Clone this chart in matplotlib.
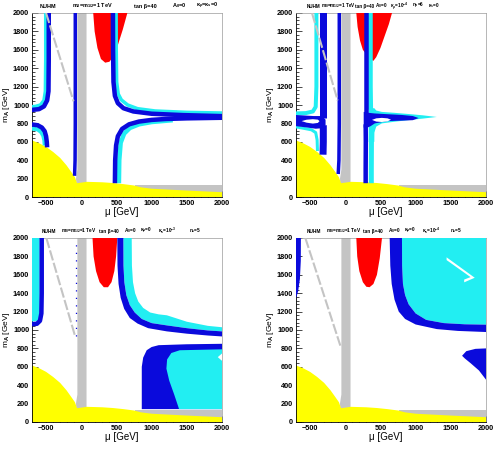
import matplotlib
matplotlib.use("Agg")
import matplotlib.pyplot as plt
from matplotlib.ticker import MultipleLocator

plt.rcParams["font.family"] = ["Liberation Sans", "DejaVu Sans"]
plt.rcParams["font.weight"] = "bold"
plt.rcParams["mathtext.fontset"] = "custom"
plt.rcParams["mathtext.rm"] = "Liberation Sans:bold"
plt.rcParams["mathtext.bf"] = "Liberation Sans:bold"
plt.rcParams["mathtext.it"] = "Liberation Sans:bold"
plt.rcParams["mathtext.default"] = "bf"

GREY = "#c4c4c4"
YELLOW = "#ffff00"
RED = "#ff0000"
BLUE = "#0a0adc"
CYAN = "#22eef2"

XMIN, XMAX, YMIN, YMAX = -700, 2000, 0, 2000

# common regions (mu, m_A in GeV)
YELLOW_X = [-700, -600, -500, -400, -300, -210, -140, -90, -60, 80, 300, 450, 600, 750, 850, 1000, 1500, 2000]
YELLOW_Y = [615, 585, 545, 490, 425, 345, 270, 215, 150, 165, 160, 152, 140, 125, 105, 90, 70, 52]
GREY_BAND_X = [760, 2000, 2000, 760]
GREY_BAND_Y = [0, 0, 130, 130]
GREY_STRIP_X = [-55, -55, -75, -70, 75, 75]
GREY_STRIP_Y = [2000, 300, 200, 140, 140, 2000]

# panel 1: no extra terms
P1_DIAG_X = [-500, -110]
P1_DIAG_Y = [2000, 1040]
P1_RED_X = [170, 190, 230, 280, 340, 400, 450, 500, 540, 590, 655]
P1_RED_Y = [2000, 1800, 1620, 1500, 1460, 1470, 1520, 1600, 1700, 1820, 2000]
P1_UL_CYAN_X = [-505, -505, -510, -530, -580, -650, -720]
P1_UL_CYAN_Y = [2050, 1500, 1150, 1050, 1000, 985, 980]
P1_UL_BLUE_X = [-462, -462, -466, -485, -530, -600, -720]
P1_UL_BLUE_Y = [2050, 1500, 1150, 1050, 985, 955, 945]
P1_LL_BLUE_X = [-720, -620, -560, -520, -500, -490, -485]
P1_LL_BLUE_Y = [790, 780, 755, 715, 660, 600, 540]
P1_LL_CYAN_X = [-720, -620, -570, -540, -525, -520]
P1_LL_CYAN_Y = [745, 735, 705, 665, 615, 560]
P1_UR_BLUE_X = [450, 452, 458, 478, 520, 600, 740, 1000, 1450, 2050]
P1_UR_BLUE_Y = [2050, 1600, 1250, 1100, 1020, 965, 930, 905, 890, 878]
P1_UR_CYAN_X = [495, 497, 503, 525, 570, 660, 800, 1050, 1500, 2050]
P1_UR_CYAN_Y = [2050, 1600, 1250, 1120, 1055, 1000, 960, 935, 920, 912]
P1_LR_BLUE_X = [2050, 1500, 1200, 1000, 820, 680, 580, 520, 495, 482, 478]
P1_LR_BLUE_Y = [862, 855, 848, 838, 820, 790, 740, 660, 560, 400, 150]
P1_LR_CYAN_X = [1300, 1000, 820, 690, 610, 560, 540, 535]
P1_LR_CYAN_Y = [835, 815, 790, 750, 690, 590, 400, 150]
P1_THIN_X = [-85, -85, -88, -95]
P1_THIN_Y = [2050, 800, 400, 230]

# panel 2: kappa_rho = 1e-4, n_rho = 6
P2_DIAG_X = [-473, -108]
P2_DIAG_Y = [2000, 1050]
P2_RED_X = [157, 175, 210, 250, 290, 330, 370, 400, 440, 500, 560, 620, 664]
P2_RED_Y = [2000, 1850, 1700, 1600, 1560, 1520, 1490, 1480, 1520, 1620, 1750, 1880, 2000]
P2_L_CYAN_X = [-410, -410, -420, -460, -560, -720]
P2_L_CYAN_Y = [2050, 1200, 980, 930, 912, 908]
P2_L_CYAN2_X = [-720, -600, -480, -420, -400, -395]
P2_L_CYAN2_Y = [765, 748, 730, 700, 620, 500]
P2_L_BLUE_X = [-312, -312]
P2_L_BLUE_Y = [2050, 860]
P2_L_BLUE2_X = [-312, -312, -316]
P2_L_BLUE2_Y = [780, 600, 460]
P2_L_FISH_X = [-720, -600, -450, -360, -320, -280, -280, -320, -420, -550, -720]
P2_L_FISH_Y = [892, 887, 880, 880, 872, 840, 780, 748, 742, 756, 772]
P2_L_HOLE_X = [-620, -550, -460, -390, -365, -390, -460, -550]
P2_L_HOLE_Y = [825, 840, 846, 841, 825, 805, 798, 808]
P2_R_BLUE_X = [290, 290]
P2_R_BLUE_Y = [2050, 900]
P2_R_BLUE2_X = [290, 292, 290, 290]
P2_R_BLUE2_Y = [790, 600, 300, 150]
P2_R_CYAN_X = [355, 355, 360]
P2_R_CYAN_Y = [2050, 1200, 950]
P2_R_CYAN2_X = [375, 372, 370, 370]
P2_R_CYAN2_Y = [720, 600, 300, 150]
P2_R_ARROW_X = [333, 413, 440, 520, 700, 900, 1100, 1300, 1100, 900, 700, 520, 440, 413, 413, 333]
P2_R_ARROW_Y = [965, 965, 940, 925, 915, 902, 888, 870, 852, 836, 818, 800, 765, 700, 600, 600]
P2_R_FISH_X = [262, 330, 420, 600, 800, 960, 1043, 960, 800, 600, 420, 360, 318, 262]
P2_R_FISH_Y = [925, 915, 908, 900, 892, 880, 858, 835, 830, 825, 800, 770, 755, 755]
P2_R_HOLE_X = [380, 440, 520, 600, 650, 600, 520, 440]
P2_R_HOLE_Y = [838, 855, 860, 855, 840, 822, 815, 820]
P2_THIN_X = [-85, -85, -90, -100]
P2_THIN_Y = [2050, 800, 400, 250]

# panel 3: kappa_s = 1e-3, n_s = 5
P3_DIAG_X = [-496, -91]
P3_DIAG_Y = [2000, 942]
P3_RED_X = [160, 175, 210, 260, 320, 380, 430, 470, 495, 512]
P3_RED_Y = [2000, 1800, 1640, 1520, 1465, 1465, 1520, 1640, 1800, 2000]
P3_L_CYAN_X = [-720, -590, -590, -600, -620, -720]
P3_L_CYAN_Y = [2050, 2050, 1200, 1130, 1100, 1090]
P3_L_BLUE_X = [-562, -562, -567, -587, -630, -720]
P3_L_BLUE_Y = [2050, 1400, 1180, 1100, 1068, 1062]
P3_DOTS_X = [-72, -72]
P3_DOTS_Y = [940, 1950]
P3_BAND_LO_X = [512, 515, 530, 560, 610, 690, 800, 950, 1216, 1500, 1800, 2000]
P3_BAND_LO_Y = [2000, 1700, 1500, 1350, 1230, 1130, 1070, 1020, 985, 960, 940, 930]
P3_BAND_MID_X = [598, 600, 612, 640, 690, 760, 860, 1000, 1216, 1500, 1800, 2000]
P3_BAND_MID_Y = [2000, 1700, 1520, 1380, 1270, 1190, 1120, 1075, 1050, 1020, 995, 985]
P3_BAND_HI_X = [717, 720, 735, 765, 810, 880, 980, 1100, 1216, 1500, 1800, 2000]
P3_BAND_HI_Y = [2000, 1700, 1520, 1400, 1310, 1240, 1190, 1170, 1160, 1090, 1045, 1030]
P3_BLOB_BLUE_X = [860, 860, 880, 930, 1000, 1100, 1500, 2000, 2000]
P3_BLOB_BLUE_Y = [140, 600, 700, 780, 815, 835, 845, 850, 140]
P3_BLOB_CYAN_X = [1390, 1320, 1250, 1210, 1220, 1280, 1400, 2000, 2000]
P3_BLOB_CYAN_Y = [140, 300, 450, 580, 680, 750, 780, 790, 140]
P3_NOTCH_X = [2000, 1940, 2000]
P3_NOTCH_Y = [745, 705, 665]

# panel 4: kappa_s = 1e-4, n_s = 5
P4_DIAG_X = [-567, -70]
P4_DIAG_Y = [2000, 830]
P4_RED_X = [157, 170, 200, 250, 300, 345, 400, 450, 490, 522]
P4_RED_Y = [2000, 1800, 1640, 1520, 1470, 1465, 1500, 1600, 1780, 2000]
P4_L_BLUE_X = [-720, -630, -632, -645, -670, -700, -720]
P4_L_BLUE_Y = [2050, 2050, 1750, 1550, 1420, 1345, 1340]
P4_BAND_LO_X = [631, 640, 660, 700, 760, 850, 1000, 1300, 1600, 2000]
P4_BAND_LO_Y = [2000, 1700, 1500, 1330, 1200, 1120, 1060, 1010, 990, 978]
P4_BAND_MID_X = [806, 808, 820, 850, 900, 1000, 1150, 1400, 1700, 2000]
P4_BAND_MID_Y = [2000, 1700, 1500, 1380, 1280, 1180, 1110, 1075, 1062, 1058]
P4_CHEVRON_X = [1440, 1840, 1690, 1690, 1780, 1440]
P4_CHEVRON_Y = [1790, 1568, 1518, 1548, 1575, 1760]
P4_BLOB_X = [1660, 1720, 1850, 2000, 2000, 1900, 1780, 1700]
P4_BLOB_Y = [720, 770, 795, 800, 460, 560, 640, 690]

TITLES = [
    ["NUHM", "m$_0$=m$_{1/2}$=1 TeV", "tan β=40", "A$_0$=0", "κ$_ρ$=κ$_s$=0"],
    ["NUHM", "m$_0$=m$_{1/2}$=1 TeV", "tan β=40", "A$_0$=0", "κ$_ρ$=10$^{-4}$", "n$_ρ$=6", "κ$_s$=0"],
    ["NUHM", "m$_0$=m$_{1/2}$=1 TeV", "tan β=40", "A$_0$=0", "κ$_ρ$=0", "κ$_s$=10$^{-3}$", "n$_s$=5"],
    ["NUHM", "m$_0$=m$_{1/2}$=1 TeV", "tan β=40", "A$_0$=0", "κ$_ρ$=0", "κ$_s$=10$^{-4}$", "n$_s$=5"],
]
TITLE_POS = [
    [0.084, 0.32, 0.595, 0.774, 0.92],
    [0.09, 0.225, 0.36, 0.45, 0.545, 0.645, 0.725],
    [0.09, 0.245, 0.405, 0.515, 0.6, 0.71, 0.86],
    [0.095, 0.25, 0.405, 0.515, 0.6, 0.71, 0.845],
]
TITLE_SIZE = [4.0, 3.3, 3.4, 3.4]


def line(ax, xs, ys, color, px, z=5):
    ax.plot(xs, ys, color=color, lw=px * 0.72, solid_capstyle="butt",
            solid_joinstyle="round", zorder=z)


def patch(ax, xs, ys, color, z=4):
    ax.fill(xs, ys, color=color, lw=0, zorder=z)


def between(ax, lo_x, lo_y, hi_x, hi_y, color, z=4):
    patch(ax, list(lo_x) + list(hi_x[::-1]), list(lo_y) + list(hi_y[::-1]), color, z)


def base(ax, diag_x, diag_y, red_x, red_y):
    patch(ax, GREY_BAND_X, GREY_BAND_Y, GREY, 1)
    patch(ax, GREY_STRIP_X, GREY_STRIP_Y, GREY, 1)
    patch(ax, YELLOW_X + [XMAX, XMIN], YELLOW_Y + [YMIN, YMIN], YELLOW, 2)
    patch(ax, red_x, red_y, RED, 3)
    ax.plot(diag_x, diag_y, color=GREY, lw=1.5, ls=(0, (5, 1.2)), zorder=7)


def style(ax, i):
    ax.set_xlim(XMIN, XMAX)
    ax.set_ylim(YMIN, YMAX)
    ax.xaxis.set_major_locator(MultipleLocator(500))
    ax.xaxis.set_minor_locator(MultipleLocator(100))
    ax.yaxis.set_major_locator(MultipleLocator(200))
    ax.yaxis.set_minor_locator(MultipleLocator(40))
    ax.tick_params(which="both", direction="in", top=False, right=False,
                   labelsize=5.3, width=0.5, pad=2)
    ax.tick_params(which="major", length=4)
    ax.tick_params(which="minor", length=2)
    for s in ["left", "bottom"]:
        ax.spines[s].set_linewidth(0.6)
    for s in ["top", "right"]:
        ax.spines[s].set_linewidth(0.5)
        ax.spines[s].set_color("#9a9a9a")
    ax.set_xlabel("μ [GeV]", fontsize=7)
    ax.set_ylabel("m$_A$ [GeV]", fontsize=6)
    ax.xaxis.set_label_coords(0.47, -0.055)
    ax.yaxis.set_label_coords(-0.104, 0.5)
    for txt, pos in zip(TITLES[i], TITLE_POS[i]):
        ax.text(pos, 1.038, txt, transform=ax.transAxes, ha="center", va="center",
                fontsize=TITLE_SIZE[i])


fig = plt.figure(figsize=(4.99, 4.53), dpi=100)
W, H = 190 / 499, 184 / 453
ax1 = fig.add_axes([32 / 499, 256 / 453, W, H])
ax2 = fig.add_axes([296 / 499, 256 / 453, W, H])
ax3 = fig.add_axes([32 / 499, 31 / 453, W, H])
ax4 = fig.add_axes([296 / 499, 31 / 453, W, H])

# panel 1
base(ax1, P1_DIAG_X, P1_DIAG_Y, P1_RED_X, P1_RED_Y)
line(ax1, P1_UL_CYAN_X, P1_UL_CYAN_Y, CYAN, 3.5, 4)
line(ax1, P1_UL_BLUE_X, P1_UL_BLUE_Y, BLUE, 4.5)
line(ax1, P1_LL_CYAN_X, P1_LL_CYAN_Y, CYAN, 4, 4)
line(ax1, P1_LL_BLUE_X, P1_LL_BLUE_Y, BLUE, 4.5)
line(ax1, P1_UR_CYAN_X, P1_UR_CYAN_Y, CYAN, 3.5, 4)
line(ax1, P1_UR_BLUE_X, P1_UR_BLUE_Y, BLUE, 4.5)
line(ax1, P1_LR_CYAN_X, P1_LR_CYAN_Y, CYAN, 4.5, 4)
line(ax1, P1_LR_BLUE_X, P1_LR_BLUE_Y, BLUE, 4.5)
line(ax1, P1_THIN_X, P1_THIN_Y, BLUE, 3.5)
style(ax1, 0)

# panel 2
base(ax2, P2_DIAG_X, P2_DIAG_Y, P2_RED_X, P2_RED_Y)
line(ax2, P2_L_CYAN_X, P2_L_CYAN_Y, CYAN, 4, 4)
line(ax2, P2_L_CYAN2_X, P2_L_CYAN2_Y, CYAN, 3, 4)
line(ax2, P2_L_BLUE_X, P2_L_BLUE_Y, BLUE, 7)
line(ax2, P2_L_BLUE2_X, P2_L_BLUE2_Y, BLUE, 7)
patch(ax2, P2_L_FISH_X, P2_L_FISH_Y, BLUE, 5)
patch(ax2, P2_L_HOLE_X, P2_L_HOLE_Y, "white", 6)
line(ax2, P2_R_CYAN_X, P2_R_CYAN_Y, CYAN, 5, 4)
line(ax2, P2_R_CYAN2_X, P2_R_CYAN2_Y, CYAN, 5, 4)
patch(ax2, P2_R_ARROW_X, P2_R_ARROW_Y, CYAN, 4)
line(ax2, P2_R_BLUE_X, P2_R_BLUE_Y, BLUE, 4.5)
line(ax2, P2_R_BLUE2_X, P2_R_BLUE2_Y, BLUE, 4.5)
patch(ax2, P2_R_FISH_X, P2_R_FISH_Y, BLUE, 5)
patch(ax2, P2_R_HOLE_X, P2_R_HOLE_Y, "white", 6)
line(ax2, P2_THIN_X, P2_THIN_Y, BLUE, 3.5)
style(ax2, 1)

# panel 3
base(ax3, P3_DIAG_X, P3_DIAG_Y, P3_RED_X, P3_RED_Y)
patch(ax3, P3_L_CYAN_X, P3_L_CYAN_Y, CYAN, 4)
line(ax3, P3_L_BLUE_X, P3_L_BLUE_Y, BLUE, 4.5)
ax3.plot(P3_DOTS_X, P3_DOTS_Y, color=BLUE, lw=0.9, ls=(0, (1, 5)), zorder=5)
between(ax3, P3_BAND_LO_X, P3_BAND_LO_Y, P3_BAND_MID_X, P3_BAND_MID_Y, BLUE, 5)
between(ax3, P3_BAND_MID_X, P3_BAND_MID_Y, P3_BAND_HI_X, P3_BAND_HI_Y, CYAN, 4)
patch(ax3, P3_BLOB_BLUE_X, P3_BLOB_BLUE_Y, BLUE, 5)
patch(ax3, P3_BLOB_CYAN_X, P3_BLOB_CYAN_Y, CYAN, 6)
patch(ax3, P3_NOTCH_X, P3_NOTCH_Y, "white", 6)
style(ax3, 2)

# panel 4
base(ax4, P4_DIAG_X, P4_DIAG_Y, P4_RED_X, P4_RED_Y)
patch(ax4, P4_L_BLUE_X, P4_L_BLUE_Y, BLUE, 5)
between(ax4, P4_BAND_LO_X, P4_BAND_LO_Y, P4_BAND_MID_X, P4_BAND_MID_Y, BLUE, 5)
patch(ax4, P4_BAND_MID_X + [XMAX], P4_BAND_MID_Y + [YMAX], CYAN, 4)
patch(ax4, P4_CHEVRON_X, P4_CHEVRON_Y, "white", 6)
patch(ax4, P4_BLOB_X, P4_BLOB_Y, BLUE, 5)
style(ax4, 3)

fig.savefig("out.png", dpi=100)
